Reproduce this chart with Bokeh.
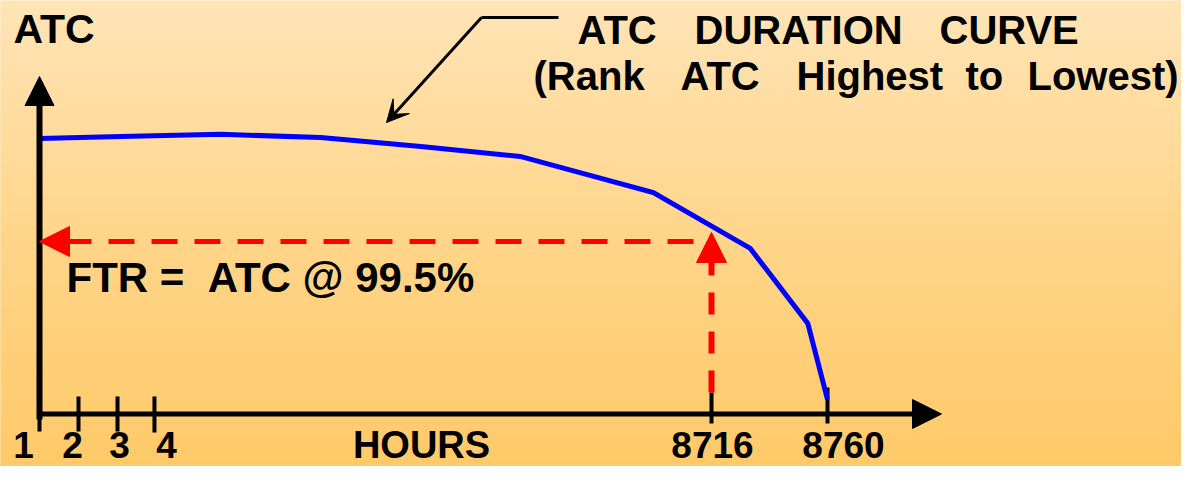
import numpy as np
from bokeh.plotting import figure
from bokeh.models import Arrow, NormalHead, VeeHead, Range1d
from bokeh.core.properties import value
from bokeh.embed import file_html
from bokeh.resources import INLINE

# ---------------- data (schematic units: hours position 0..100, ATC 0..100) ----
hours_pos = [0, 10.3, 23.0, 35.7, 48.4, 61.0, 77.9, 90.2, 97.5, 100]
atc = [100, 100.7, 101.5, 100.4, 97.1, 93.5, 80.4, 60.1, 32.9, 5.3]
tick_labels = ["1", "2", "3", "4", "8716", "8760"]
tick_pos = [0, 4.95, 9.90, 14.59, 85.28, 100]
ftr_index = 4          # the 8716-hour tick (99.5 %)
ftr_atc = 62.6         # ATC level of the FTR read-off
x_label = "HOURS"
y_label = "ATC"
curve_title = ["ATC", "DURATION", "CURVE"]
curve_subtitle = ["(Rank", "ATC", "Highest", "to", "Lowest)"]
ftr_text = "FTR =\u00a0\u00a0ATC @ 99.5%"

# ---------------- layout helpers (canvas pixel -> data units) ------------------
W, H = 1181, 466
X0, SX = 39.0, 7.88
Y0, SY = 413.5, 2.755
BL = 14  # baseline correction of the svg text rendering


def dx(px):
    return (px - X0) / SX


def dy(py):
    return (Y0 - py) / SY


def ty(py):
    return dy(py - BL)


p = figure(width=W, height=H, output_backend="svg", toolbar_location=None,
           x_range=Range1d(dx(0), dx(W)), y_range=Range1d(dy(H), dy(0)),
           x_axis_location=None, y_axis_location=None, min_border=0)
p.grid.visible = False
p.outline_line_color = None
p.border_fill_color = "#FFE3B5"
p.background_fill_color = "#FFE3B5"

# background gradient (decoration)
stops_y = [0, 235, H]
stops_c = np.array([[255, 228, 182], [255, 213, 138], [255, 201, 104]], dtype=float)
band_px = np.arange(0, H, 2.0)
cols = []
for yy in band_px:
    r = np.interp(yy, stops_y, stops_c[:, 0])
    g = np.interp(yy, stops_y, stops_c[:, 1])
    b = np.interp(yy, stops_y, stops_c[:, 2])
    cols.append("#%02x%02x%02x" % (int(round(r)), int(round(g)), int(round(b))))
p.quad(left=dx(-20), right=dx(1300), top=[dy(v) for v in band_px],
       bottom=[dy(v + 2.6) for v in band_px], fill_color=cols, line_color=None)

FONT = value("Liberation Sans")

# ---------------- axes with arrow heads ----------------------------------------
p.add_layout(Arrow(end=NormalHead(size=29, fill_color="black", line_color="black", line_width=1),
                   x_start=0, y_start=dy(419), x_end=0, y_end=dy(76),
                   line_width=6, line_color="black"))
p.add_layout(Arrow(end=NormalHead(size=29, fill_color="black", line_color="black", line_width=1),
                   x_start=dx(37), y_start=0, x_end=dx(941), y_end=0,
                   line_width=5, line_color="black"))

# ticks
tick_top = [dy(v) for v in [413.5, 396, 396, 396, 392, 387]]
tick_bot = [dy(v) for v in [431, 431, 431, 432, 423, 423]]
p.segment(x0=tick_pos, x1=tick_pos, y0=tick_bot, y1=tick_top, line_width=4, line_color="black")

# tick labels (kept inside the canvas)
LAB_BASE = 458
lab_dx = [-16, -6, 2, 12, 1, 16]
p.text(x=tick_pos, y=[ty(LAB_BASE)] * len(tick_pos), text=tick_labels, x_offset=lab_dx,
       text_font=FONT, text_font_style="bold", text_font_size="37px",
       text_align="center", text_baseline="alphabetic", text_color="black")
p.text(x=[dx(421)], y=[ty(LAB_BASE)], text=[x_label], text_font=FONT, text_font_style="bold",
       text_font_size="38px", text_align="center", text_baseline="alphabetic", text_color="black")
p.text(x=[dx(13)], y=[ty(42.5)], text=[y_label], text_font=FONT, text_font_style="bold",
       text_font_size="41px", text_align="left", text_baseline="alphabetic", text_color="black")

# ---------------- duration curve -------------------------------------------------
p.line(hours_pos, atc, line_width=5, line_color="#0000FF", line_join="miter")

# ---------------- FTR read-off ---------------------------------------------------
ftr_x = tick_pos[ftr_index]
p.add_layout(Arrow(end=NormalHead(size=30, fill_color="red", line_color="red", line_width=1),
                   x_start=ftr_x - dx(X0 + 18), y_start=ftr_atc, x_end=0, y_end=ftr_atc,
                   line_width=5, line_color="red", line_dash="26 17"))
p.add_layout(Arrow(end=NormalHead(size=30, fill_color="red", line_color="red", line_width=1),
                   x_start=ftr_x, y_start=dy(392), x_end=ftr_x, y_end=dy(232),
                   line_width=6, line_color="red", line_dash="22 17"))
p.text(x=[dx(66)], y=[ty(290.5)], text=[ftr_text], text_font=FONT, text_font_style="bold",
       text_font_size="42px", text_align="left", text_baseline="alphabetic", text_color="black")

# ---------------- curve annotation ----------------------------------------------
p.line(x=[dx(558), dx(481)], y=[dy(17), dy(17)], line_width=3, line_color="black")
p.add_layout(Arrow(end=VeeHead(size=22, fill_color="black", line_color="black", line_width=1),
                   x_start=dx(481), y_start=dy(17), x_end=dx(386), y_end=dy(122),
                   line_width=3, line_color="black"))
p.text(x=[dx(v) for v in [577, 694, 939]], y=[ty(43)] * 3, text=curve_title,
       text_font=FONT, text_font_style="bold", text_font_size="40px",
       text_align="left", text_baseline="alphabetic", text_color="black")
p.text(x=[dx(v) for v in [533, 680, 796, 965, 1027]], y=[ty(89)] * 5, text=curve_subtitle,
       text_font=FONT, text_font_style="bold", text_font_size="40px",
       text_align="left", text_baseline="alphabetic", text_color="black")

open("out.html", "w").write(file_html(p, INLINE))
